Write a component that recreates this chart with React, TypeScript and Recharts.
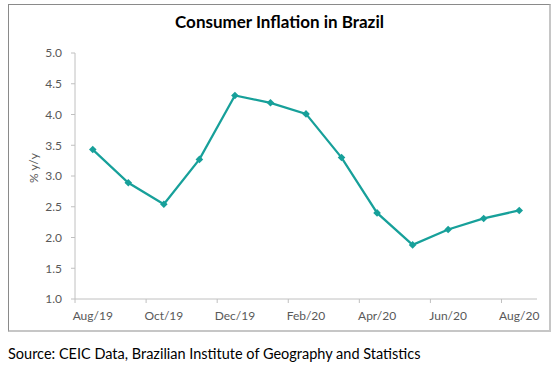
import { LineChart, Line, XAxis, YAxis } from "recharts";

const months = ["Aug/19", "Sep/19", "Oct/19", "Nov/19", "Dec/19", "Jan/20", "Feb/20", "Mar/20", "Apr/20", "May/20", "Jun/20", "Jul/20", "Aug/20"];
const inflation = [3.43, 2.89, 2.54, 3.27, 4.31, 4.19, 4.01, 3.30, 2.40, 1.88, 2.13, 2.31, 2.44];
const yTicks = [1.0, 1.5, 2.0, 2.5, 3.0, 3.5, 4.0, 4.5, 5.0];
const xTicks = months.map((_, i) => i + 0.5).filter((_, i) => i % 2 === 0);

const data = months.map((m, i) => ({ x: i + 0.5, month: m, value: inflation[i] }));

const TEAL = "#17a09a";
const AXIS = "#c0c0c0";
const LABEL = "#595959";
const FONT = "Lato, 'Liberation Sans', sans-serif";

// labels sit mid-category, tick marks sit on the category boundary to the left
const XTick = (props: any) => {
  const { x, y, payload } = props;
  const half = 35.5 / 2;
  return (
    <g>
      <line x1={x - half} x2={x - half} y1={y - 4} y2={y} stroke={AXIS} />
      <text x={x} y={y + 17} textAnchor="middle" fill={LABEL} fontSize={12} fontFamily={FONT}>
        {months[Math.round(payload.value - 0.5)] ?? ""}
      </text>
    </g>
  );
};

const Diamond = (props: any) => {
  const { cx, cy } = props;
  if (cx == null || cy == null) return null;
  const r = 3.8;
  return <polygon points={`${cx},${cy - r} ${cx + r},${cy} ${cx},${cy + r} ${cx - r},${cy}`} fill={TEAL} />;
};

export default function App() {
  return (
    <div style={{ position: "absolute", left: 0, top: 0, width: 559, height: 366, background: "#fff", fontFamily: FONT }}>
      <div
        style={{
          position: "absolute",
          left: 8,
          top: 4,
          width: 540,
          height: 325,
          borderTop: "1px solid #8a8a8a",
          borderLeft: "1px solid #8a8a8a",
          borderRight: "2px solid #c6c6c6",
          borderBottom: "2px solid #c6c6c6",
        }}
      />
      <div
        style={{
          position: "absolute",
          left: 0,
          width: 559,
          top: 11,
          textAlign: "center",
          fontSize: 17,
          fontWeight: 700,
          color: "#000",
        }}
      >
        Consumer Inflation in Brazil
      </div>
      <div
        style={{
          position: "absolute",
          left: 33,
          top: 168,
          transform: "translate(-50%, -50%) rotate(-90deg)",
          fontSize: 12,
          color: LABEL,
          whiteSpace: "nowrap",
        }}
      >
        % y/y
      </div>
      <div style={{ position: "absolute", left: 9, top: 5 }}>
        <LineChart width={540} height={326} data={data} margin={{ top: 48, right: 12, left: 26, bottom: 12 }}>
          <XAxis
            dataKey="x"
            type="number"
            domain={[0, 13]}
            ticks={xTicks}
            interval={0}
            stroke={AXIS}
            tickLine={false}
            tickSize={4}
            tickMargin={0}
            height={20}
            tick={<XTick />}
          />
          <YAxis
            type="number"
            domain={[1, 5]}
            ticks={yTicks}
            interval={0}
            width={40}
            stroke={AXIS}
            tickSize={4}
            tickMargin={9}
            tickFormatter={(v: number) => v.toFixed(1)}
            tick={{ fill: LABEL, fontSize: 12, fontFamily: FONT }}
          />
          <Line
            type="linear"
            dataKey="value"
            stroke={TEAL}
            strokeWidth={2.25}
            dot={<Diamond />}
            activeDot={false}
            isAnimationActive={false}
          />
        </LineChart>
      </div>
      <div style={{ position: "absolute", left: 8, top: 345, fontSize: 14.5, color: "#000", whiteSpace: "nowrap" }}>
        Source: CEIC Data, Brazilian Institute of Geography and Statistics
      </div>
    </div>
  );
}
